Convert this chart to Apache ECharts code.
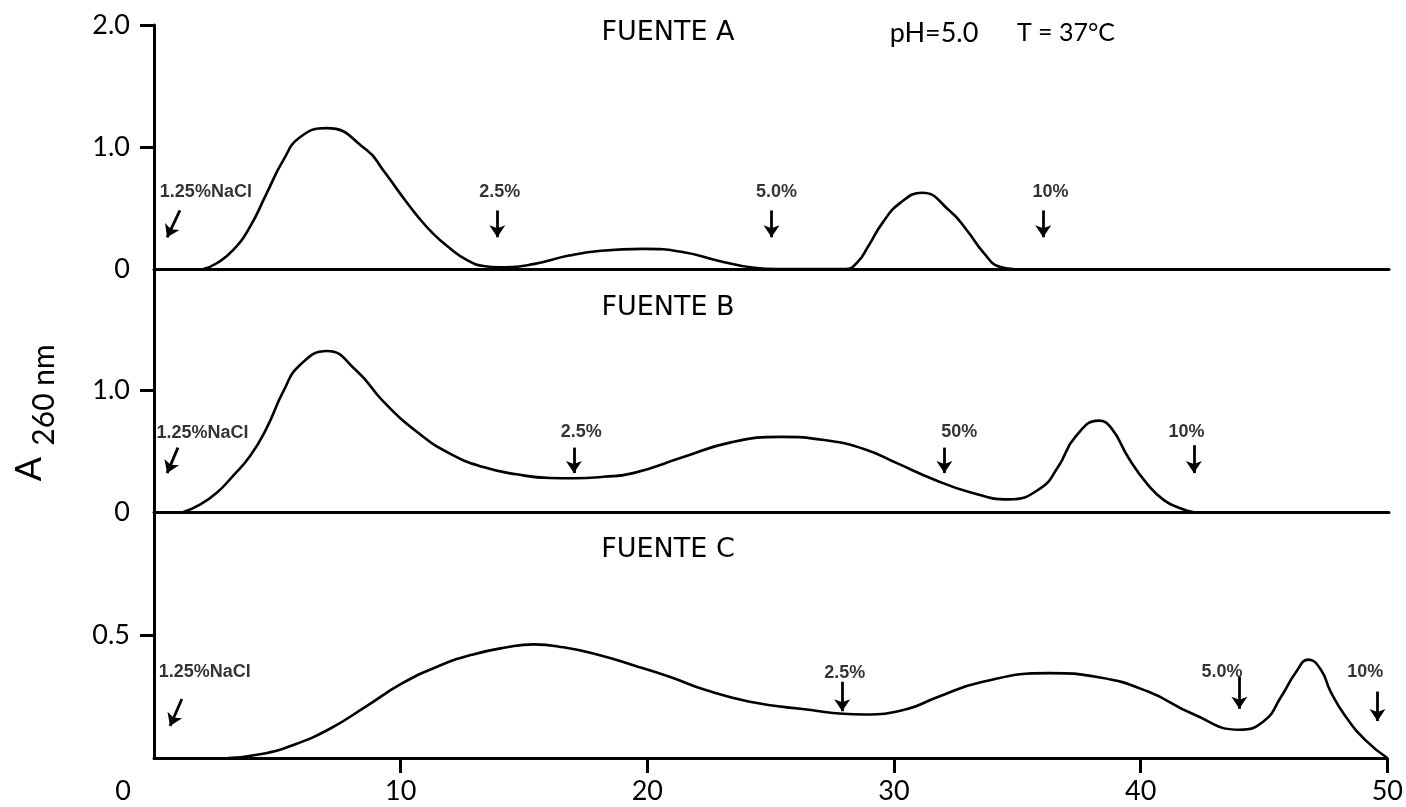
<!DOCTYPE html>
<html><head><meta charset="utf-8">
<script src="https://cdn.jsdelivr.net/npm/echarts@6/dist/echarts.min.js"></script>
<style>html,body{margin:0;padding:0;background:#fff}#c{width:1406px;height:807px}</style>
</head><body><div id="c"></div><script>
// ---- data (fraction number, A260) ----
const curveA = [[2.0,0],[2.54,0.047],[3.21,0.156],[3.89,0.347],[4.56,0.62],[5.23,0.89],[5.91,1.08],[7.0,1.155],[8.61,0.975],[9.28,0.81],[9.96,0.62],[10.64,0.44],[11.3,0.29],[11.98,0.17],[12.66,0.074],[13.33,0.025],[14.0,0.014],[15.36,0.04],[16.8,0.11],[18.1,0.15],[19.8,0.165],[21.4,0.14],[22.8,0.07],[24.3,0.01],[25.2,0],[28.0,0],[28.5,0.06],[28.9,0.18],[29.5,0.38],[30.2,0.54],[31.1,0.625],[32.2,0.48],[32.9,0.32],[33.6,0.13],[34.2,0.02],[34.8,0]];
const curveB = [[1.19,0],[1.86,0.061],[2.54,0.158],[3.21,0.30],[3.89,0.46],[4.56,0.69],[5.23,0.99],[5.91,1.21],[7.0,1.325],[8.21,1.16],[9.28,0.91],[10.64,0.66],[11.98,0.48],[13.33,0.37],[14.68,0.31],[16.03,0.28],[17.0,0.278],[18.2,0.29],[19.4,0.32],[21.4,0.45],[23.4,0.575],[25.4,0.618],[27.2,0.59],[28.8,0.515],[30.1,0.40],[31.55,0.27],[33.0,0.165],[34.6,0.104],[35.87,0.192],[36.6,0.371],[37.3,0.618],[38.25,0.752],[38.76,0.69],[39.47,0.44],[40.2,0.234],[40.9,0.096],[41.6,0.027],[42.07,0]];
const curveC = [[3.0,0],[4.3,0.015],[5.7,0.055],[7.15,0.12],[8.6,0.21],[10.0,0.30],[11.45,0.37],[12.9,0.42],[14.3,0.45],[15.4,0.462],[16.6,0.45],[18.0,0.42],[19.4,0.378],[20.9,0.33],[22.4,0.275],[24.1,0.23],[26.2,0.20],[28.8,0.177],[30.5,0.198],[31.7,0.245],[33.6,0.31],[36.3,0.345],[38.3,0.328],[40.3,0.27],[42.1,0.18],[44.0,0.115],[45.0,0.15],[45.7,0.25],[46.3,0.35],[46.8,0.40],[47.3,0.36],[47.7,0.27],[48.3,0.17],[49.1,0.074],[50.0,0]];

// salt-step arrows: [startX, startY, endX, endY]
const arrowsA = [[1.05,0.48,0.53,0.26],[13.9,0.48,13.9,0.26],[25.0,0.48,25.0,0.26],[36.0,0.48,36.0,0.26]];
const arrowsB = [[0.97,0.53,0.53,0.32],[17.0,0.53,17.0,0.32],[32.0,0.53,32.0,0.32],[42.1,0.55,42.1,0.32]];
const arrowsC = [[1.13,0.24,0.65,0.13],[27.9,0.31,27.9,0.19],[44.0,0.33,44.0,0.20],[49.6,0.27,49.6,0.15]];
// arrow labels: [x, y, text]
const labelsA = [[2.1,0.63,'1.25%NaCl'],[14.0,0.63,'2.5%'],[25.2,0.63,'5.0%'],[36.3,0.63,'10%']];
const labelsB = [[1.96,0.65,'1.25%NaCl'],[17.3,0.655,'2.5%'],[32.6,0.655,'50%'],[41.8,0.655,'10%']];
const labelsC = [[2.06,0.35,'1.25%NaCl'],[28.0,0.345,'2.5%'],[43.3,0.35,'5.0%'],[49.1,0.35,'10%']];

const panelTitles = ['FUENTE A','FUENTE B','FUENTE C'];
const xTicks = [10,20,30,40,50];
const xTickLabels = [0,10,20,30,40,50];
const yTicks = [[1,2],[1],[0.5]];
const yTickLabels = [[0,1,2],[0,1],[0.5]];
const yMax = [2,2,1];

// ---- chart ----
const INK = '#000';
const chart = echarts.init(document.getElementById('c'));
const grids = [
  {left:154,right:17,top:25,height:244},
  {left:154,right:17,top:269,height:243},
  {left:154,right:17,top:512,height:246}
];
const xAxes = grids.map((g,i)=>{
  const bottom = i===2;
  return {type:'value',gridIndex:i,min:0,max:50,interval:10,
    axisLine:{show:true,onZero:false,lineStyle:{color:INK,width:3}},
    axisTick:{show:bottom,length:15,customValues:xTicks,lineStyle:{color:INK,width:3}},
    axisLabel:{show:bottom,customValues:xTickLabels,margin:20,fontFamily:'Lato',fontSize:27,color:INK,
      formatter:v=>v===0?'{z|0}':String(v),
      rich:{z:{padding:[0,62,0,0],fontFamily:'Lato',fontSize:27,color:INK}}},
    splitLine:{show:false}};
});
const yAxes = grids.map((g,i)=>({type:'value',gridIndex:i,min:0,max:yMax[i],interval:0.5,
  axisLine:{show:true,onZero:false,lineStyle:{color:INK,width:3}},
  axisTick:{show:true,length:14,customValues:yTicks[i],lineStyle:{color:INK,width:3}},
  axisLabel:{show:true,customValues:yTickLabels[i],margin:24,fontFamily:'Lato',fontSize:27,color:INK,
    formatter:v=>v===0?'0':v.toFixed(1)},
  splitLine:{show:false}}));

const curves=[curveA,curveB,curveC], arrows=[arrowsA,arrowsB,arrowsC], labels=[labelsA,labelsB,labelsC];
const series=[];
curves.forEach((d,i)=>{
  series.push({type:'line',xAxisIndex:i,yAxisIndex:i,data:d,showSymbol:false,smooth:0.5,silent:true,
    lineStyle:{color:INK,width:2.6},
    markLine:{silent:true,symbol:['none','arrow'],symbolSize:12,animation:false,
      lineStyle:{color:INK,width:2.8,type:'solid'},label:{show:false},
      data:arrows[i].map(a=>[{coord:[a[0],a[1]]},{coord:[a[2],a[3]]}])}});
  series.push({type:'scatter',xAxisIndex:i,yAxisIndex:i,silent:true,symbolSize:1,itemStyle:{color:'rgba(0,0,0,0)'},
    data:labels[i].map(l=>({value:[l[0],l[1]],name:l[2]})),
    label:{show:true,position:'inside',formatter:'{b}',fontFamily:'Liberation Sans',fontWeight:'bold',fontSize:18,color:INK}});
});

const titleY=[33,308,550];
const graphic = panelTitles.map((t,i)=>({type:'text',x:668,y:titleY[i],
  style:{text:t,fontFamily:'DejaVu Sans',fontSize:27,fill:INK,align:'center',verticalAlign:'middle'}}));
graphic.push({type:'text',x:934,y:33,style:{text:'pH=5.0',fontFamily:'Lato',fontSize:27,fill:INK,align:'center',verticalAlign:'middle'}});
graphic.push({type:'text',x:1066,y:33,style:{text:'T = 37°C',fontFamily:'Lato',fontSize:25,fill:INK,align:'center',verticalAlign:'middle'}});
graphic.push({type:'text',x:29,y:469,rotation:Math.PI/2,style:{text:'A',fontFamily:'Lato',fontSize:36,fill:INK,align:'center',verticalAlign:'middle'}});
graphic.push({type:'text',x:44,y:395,rotation:Math.PI/2,style:{text:'260 nm',fontFamily:'Lato',fontSize:30,fill:INK,align:'center',verticalAlign:'middle'}});

chart.setOption({animation:false,backgroundColor:'#fff',grid:grids,xAxis:xAxes,yAxis:yAxes,series,graphic});
</script></body></html>
